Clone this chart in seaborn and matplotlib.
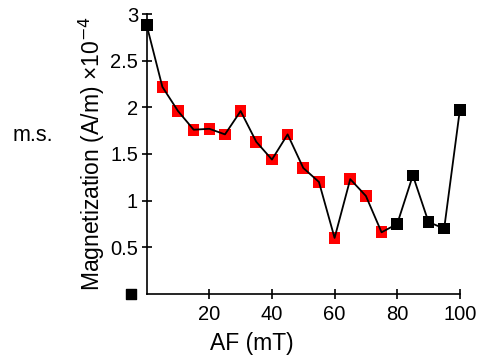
import matplotlib
matplotlib.use("Agg")
import matplotlib.pyplot as plt
import seaborn as sns
import pandas as pd

af_mT = [0, 5, 10, 15, 20, 25, 30, 35, 40, 45, 50, 55, 60, 65, 70, 75, 80, 85, 90, 95, 100]
magnetization = [2.88, 2.22, 1.96, 1.76, 1.77, 1.71, 1.96, 1.63, 1.44, 1.71, 1.35, 1.20,
                 0.60, 1.23, 1.05, 0.66, 0.75, 1.27, 0.77, 0.70, 1.97]
step_group = ["excluded"] + ["fit"] * 15 + ["excluded"] * 5
ms_x = [-5]
ms_y = [0.0]

df = pd.DataFrame({"AF": af_mT, "M": magnetization, "group": step_group})

sns.set_style("ticks")
plt.rcParams["font.family"] = ["Liberation Sans", "DejaVu Sans"]
plt.rcParams["text.color"] = "black"
plt.rcParams["axes.labelcolor"] = "black"

fig = plt.figure(figsize=(4.81, 3.61), dpi=100)
ax = fig.add_axes([0.305, 0.186, 0.651, 0.775])

sns.scatterplot(data=df, x="AF", y="M", hue="group",
                palette={"fit": "#ff0000", "excluded": "black"},
                marker="s", s=70, edgecolor="none", legend=False, ax=ax, zorder=2,
                clip_on=False)
sns.lineplot(data=df, x="AF", y="M", color="black", linewidth=1.3, ax=ax,
             zorder=3, sort=False, estimator=None)
ax.scatter(ms_x, ms_y, marker="s", s=60, color="black", clip_on=False, zorder=3)

ax.set_xlim(0, 100)
ax.set_ylim(0, 3)
ax.set_xticks([20, 40, 60, 80, 100])
ax.set_yticks([0.5, 1, 1.5, 2, 2.5, 3])
ax.set_yticklabels(["0.5", "1", "1.5", "2", "2.5", "3"])
ax.tick_params(direction="inout", length=7.5, width=1.2, labelsize=14.5, colors="black")
ax.tick_params(axis="x", pad=4.2)
ax.tick_params(axis="y", pad=2.5)
for s in ["left", "bottom"]:
    ax.spines[s].set_linewidth(1.2)
    ax.spines[s].set_color("black")
sns.despine(ax=ax)

ax.set_xlabel("AF (mT)", fontsize=16.5, color="black")
ax.xaxis.set_label_coords(0.335, -0.136)
ax.set_ylabel("Magnetization (A/m) ×10$^{-4}$", fontsize=16.5, color="black")
ax.yaxis.set_label_coords(-0.127, 0.5)
fig.text(0.069, 0.626, "m.s.", fontsize=15.5, ha="center", va="center", color="black")

fig.savefig("out.png", dpi=100)
